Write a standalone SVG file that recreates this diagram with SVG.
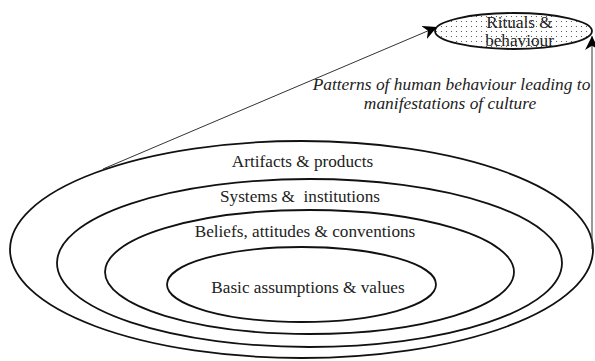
<svg xmlns="http://www.w3.org/2000/svg" width="595" height="361" viewBox="0 0 595 361">
<style>
.ring{fill:none;stroke:#111;stroke-width:1.8}
.lbl{font-family:'Liberation Serif','DejaVu Serif',serif;font-size:17.2px;fill:#222;text-anchor:middle}
.it{font-style:italic;font-size:17.4px}
.conn{stroke:#333;stroke-width:1;fill:none}
</style>
<defs>
<pattern id="dots" width="5" height="5" patternUnits="userSpaceOnUse">
<circle cx="1.5" cy="1.5" r="0.6" fill="#444"/>
</pattern>
<marker id="arr" viewBox="0 0 10 10" refX="10" refY="5" markerWidth="14" markerHeight="14" markerUnits="userSpaceOnUse" orient="auto">
<path d="M0,0 L10,5 L0,10 L3,5 Z" fill="#000"/>
</marker>
</defs>
<rect width="595" height="361" fill="#fff"/>
<g id="outer">
<ellipse class="ring" cx="301.5" cy="249.5" rx="291.5" ry="108.5"/>
<text class="lbl" x="302.5" y="167">Artifacts &amp; products</text>
</g>
<g id="systems">
<ellipse class="ring" cx="309.5" cy="263" rx="252.5" ry="84"/>
<text class="lbl" x="300" y="202" xml:space="preserve">Systems &amp;  institutions</text>
</g>
<g id="beliefs">
<ellipse class="ring" cx="309.5" cy="272" rx="204.5" ry="62"/>
<text class="lbl" x="305" y="237">Beliefs, attitudes &amp; conventions</text>
</g>
<g id="basic">
<ellipse class="ring" cx="301.5" cy="284.5" rx="134.5" ry="37.5"/>
<text class="lbl" x="308" y="293">Basic assumptions &amp; values</text>
</g>
<g id="rituals">
<ellipse cx="513.5" cy="31" rx="78.5" ry="18" fill="url(#dots)" stroke="#111" stroke-width="1.8"/>
<text class="lbl" x="519.5" y="28">Rituals &amp;</text>
<text class="lbl" x="519.5" y="46">behaviour</text>
</g>
<g id="caption">
<text class="lbl it" x="451.5" y="90">Patterns of human behaviour leading to</text>
<text class="lbl it" x="450" y="109">manifestations of culture</text>
</g>
<g id="connectors">
<line class="conn" x1="103" y1="169" x2="437" y2="27" marker-end="url(#arr)"/>
<line class="conn" x1="592" y1="249" x2="592" y2="36" marker-end="url(#arr)"/>
</g>
</svg>
